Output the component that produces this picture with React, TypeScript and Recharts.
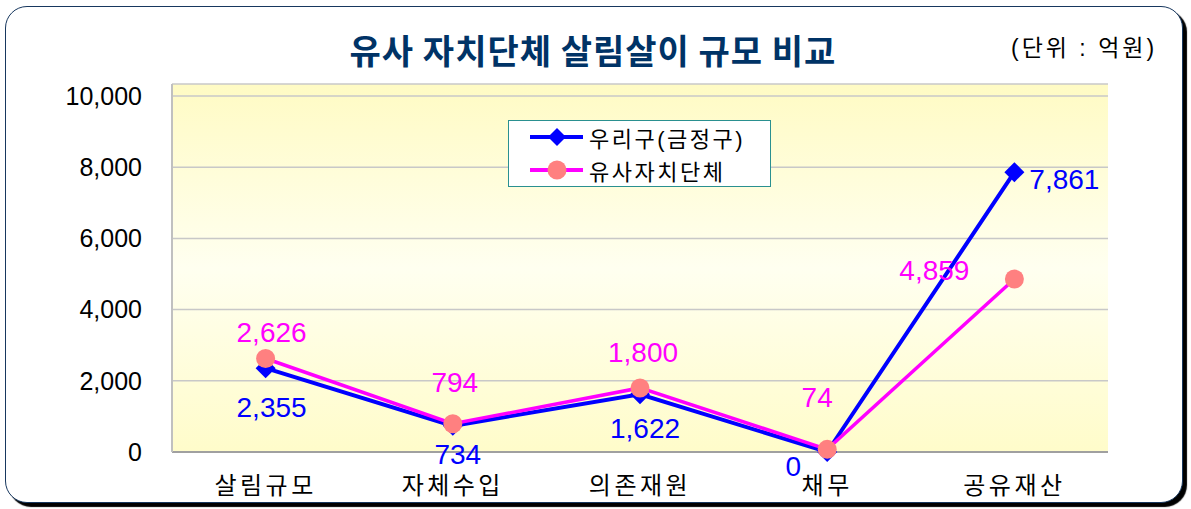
import React from 'react';
import { LineChart, Line, XAxis, YAxis, CartesianGrid, Legend, LabelList } from 'recharts';

const categories = ['살림규모', '자체수입', '의존재원', '채무', '공유재산'];
const ourGuValues = [2355, 734, 1622, 0, 7861];
const similarValues = [2626, 794, 1800, 74, 4859];
const seriesNames = ['우리구(금정구)', '유사자치단체'];
const yTicks = [0, 2000, 4000, 6000, 8000, 10000];
const yMax = 10337;

// label nudges (px) relative to each point
const ourLabelOffset = [[6, 39], [5, 29], [5, 34], [-34, 14], [50, 7]];
const simLabelOffset = [[6, -26], [2, -41], [3, -35], [-10, -52], [-80, -9]];

const data = categories.map((name, i) => ({ name, ourGu: ourGuValues[i], similar: similarValues[i] }));

const BLUE = '#0000ff';
const PINK = '#ff00ff';
const SALMON = '#ff8080';
const NUM_FONT = '"Liberation Sans", Arial, sans-serif';
const KR_FONT = '"Liberation Sans", Arial, "Noto Sans CJK KR", sans-serif';

const fmt = (v: number) => String(v).replace(/\B(?=(\d{3})+(?!\d))/g, ',');

const makeLabel = (values: number[], offsets: number[][], color: string) => (props: any) => {
  const { x, y, value } = props;
  const idx = props.index ?? values.indexOf(value);
  const [dx, dy] = offsets[idx] || [0, 0];
  return (
    <text x={x + dx} y={y + dy} textAnchor="middle" dominantBaseline="central"
      fill={color} fontSize={28} fontFamily={NUM_FONT}>
      {fmt(value)}
    </text>
  );
};

const Diamond = (props: any) => {
  const { cx, cy, index } = props;
  const s = 10;
  return <polygon key={`d-${index}`} points={`${cx},${cy - s} ${cx + s},${cy} ${cx},${cy + s} ${cx - s},${cy}`} fill={BLUE} />;
};

const LegendBox = () => (
  <div style={{ width: 263, height: 67, boxSizing: 'border-box', background: '#fff', border: '1.5px solid #2a9090' }}>
    {seriesNames.map((n, i) => (
      <div key={n} style={{ display: 'flex', alignItems: 'center', height: 32, marginTop: i === 0 ? 0 : 1 }}>
        <svg width={80} height={30} style={{ display: 'block' }}>
          <line x1={21} x2={74} y1={15} y2={15} stroke={i === 0 ? BLUE : PINK} strokeWidth={4} />
          {i === 0
            ? <polygon points="48,6 57,15 48,24 39,15" fill={BLUE} />
            : <circle cx={48} cy={15} r={9.5} fill={SALMON} />}
        </svg>
        <span style={{ fontFamily: KR_FONT, fontSize: 22, letterSpacing: 2.5, color: '#000' }}>{n}</span>
      </div>
    ))}
  </div>
);

export default function App() {
  return (
    <div style={{ position: 'absolute', left: 0, top: 0, width: 1191, height: 509, background: '#fff' }}>
      <div style={{
        position: 'absolute', left: 5, top: 6, width: 1178, height: 497, boxSizing: 'border-box',
        border: '1.5px solid #17375e', borderRadius: 22, boxShadow: '4px 4px 1px #000', background: '#fff',
      }} />
      <div style={{
        position: 'absolute', left: 0, width: 1186, top: 26, textAlign: 'center', fontFamily: '"Noto Sans CJK KR", sans-serif',
        fontWeight: 700, fontSize: 34, letterSpacing: 1, color: '#003366', lineHeight: '48px', whiteSpace: 'nowrap',
      }}>
        유사 자치단체 살림살이 규모 비교
      </div>
      <div style={{
        position: 'absolute', left: 1011, top: 31, fontFamily: KR_FONT, fontSize: 23, letterSpacing: 3,
        color: '#000', lineHeight: '34px', whiteSpace: 'nowrap',
      }}>
        (단위 : 억원)
      </div>
      <div style={{ position: 'absolute', left: 0, top: 0 }}>
        <LineChart width={1191} height={509} data={data} margin={{ top: 84, right: 83, bottom: 7, left: 0 }}>
          <defs>
            <linearGradient id="plotBg" x1="0" y1="0" x2="0" y2="1">
              <stop offset="0%" stopColor="#fffbc4" />
              <stop offset="50%" stopColor="#fffff0" />
              <stop offset="100%" stopColor="#fffcca" />
            </linearGradient>
          </defs>
          <CartesianGrid vertical={false} stroke="#c8c8c8" strokeWidth={1.5} fill="url(#plotBg)" fillOpacity={1} />
          <XAxis dataKey="name" height={50} padding={{ left: 93.6, right: 93.6 }} tickLine={false} tickSize={0} tickMargin={25}
            axisLine={{ stroke: '#a0a0a0', strokeWidth: 2 }}
            tick={{ fill: '#000', fontSize: 24, fontFamily: KR_FONT, letterSpacing: 3.5 }} />
          <XAxis xAxisId="top" orientation="top" dataKey="name" height={0} tick={false} tickLine={false}
            axisLine={{ stroke: '#888', strokeWidth: 2 }} />
          <YAxis width={172} domain={[0, yMax]} ticks={yTicks} tickLine={false} tickSize={0} tickMargin={30}
            axisLine={{ stroke: '#c0c0c0', strokeWidth: 2 }} tickFormatter={fmt}
            tick={{ fill: '#000', fontSize: 25, fontFamily: NUM_FONT }} />
          <YAxis yAxisId="right" orientation="right" width={0} domain={[0, yMax]} tick={false} tickLine={false}
            axisLine={{ stroke: '#a0a0a0', strokeWidth: 2 }} />
          <Legend layout="vertical" align="center" verticalAlign="middle" content={() => <LegendBox />}
            wrapperStyle={{ position: 'absolute', left: 508, top: 120, width: 263, height: 67 }} />
          <Line isAnimationActive={false} type="linear" dataKey="ourGu" name={seriesNames[0]} stroke={BLUE}
            strokeWidth={4} dot={Diamond} activeDot={false}>
            <LabelList dataKey="ourGu" content={makeLabel(ourGuValues, ourLabelOffset, BLUE)} />
          </Line>
          <Line isAnimationActive={false} type="linear" dataKey="similar" name={seriesNames[1]} stroke={PINK}
            strokeWidth={3.5} dot={{ r: 9.5, fill: SALMON, stroke: SALMON, strokeWidth: 0 }} activeDot={false}>
            <LabelList dataKey="similar" content={makeLabel(similarValues, simLabelOffset, PINK)} />
          </Line>
        </LineChart>
      </div>
    </div>
  );
}
